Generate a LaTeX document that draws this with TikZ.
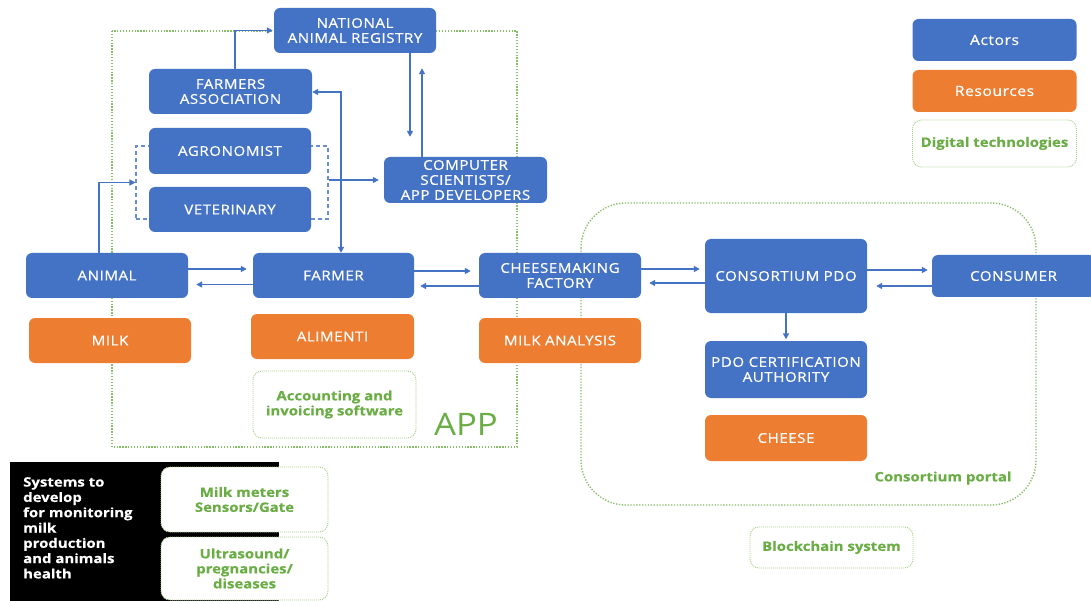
\documentclass[tikz,border=0pt]{standalone}
\usepackage{fontspec}
\setmainfont{Open Sans}
\newfontfamily\boxf{Open Sans}[FakeStretch=1.12, FakeBold=0.6, LetterSpace=4]
\newfontfamily\gbf{Open Sans}[FakeStretch=1.15, BoldFeatures={FakeBold=0.3}]
\newfontfamily\appf{Open Sans}[FakeStretch=1.12]
\usetikzlibrary{arrows.meta,calc}
\definecolor{blueC}{HTML}{4472C4}
\definecolor{orangeC}{HTML}{ED7D31}
\definecolor{greenT}{HTML}{6AAD45}
\definecolor{greenL}{HTML}{A8D08D}
\begin{document}
\begin{tikzpicture}[x=1pt,y=-1pt,
  boxfont/.style={font=\boxf\fontsize{13.5}{15}\selectfont},
  sz/.style 2 args={minimum width=#1pt, minimum height=#2pt},
  actor/.style={fill=blueC, rounded corners=6pt, text=white, align=center, inner sep=0pt, boxfont},
  resource/.style={fill=orangeC, rounded corners=6pt, text=white, align=center, inner sep=0pt, boxfont},
  digital/.style={draw=greenL, line width=0.9pt, dash pattern=on 1pt off 1pt, fill=white, rounded corners=9pt, text=greenT, align=center, inner sep=0pt, font=\gbf\fontsize{13}{15}\selectfont\bfseries},
  group/.style={draw=blueC!80, line width=1.1pt, dash pattern=on 4pt off 3pt, inner sep=0pt},
  zone/.style={draw=greenT!80!white, line width=1.4pt, dash pattern=on 1.3pt off 1.6pt},
  arr/.style={draw=blueC, line width=1.6pt, -{Triangle[length=6pt,width=6pt]}},
  arrb/.style={draw=blueC, line width=1.6pt, {Triangle[length=6pt,width=6pt]}-{Triangle[length=6pt,width=6pt]}}
]
\useasboundingbox (0,0) rectangle (1091,601);
\fill[white] (0,0) rectangle (1091,601);
% zones
\draw[zone] (112,31) rectangle (517,447);
\draw[zone, rounded corners=45pt] (581,203) rectangle (1036,505);
\node[text=greenT, font=\appf\fontsize{31}{31}\selectfont] (applbl) at (466,424) {APP};
\node[text=greenT, font=\gbf\fontsize{13}{15}\selectfont\bfseries] (cplbl) at (943,478) {Consortium portal};
% black panel
\fill[black] (10,462) rectangle (279,601);
\node[anchor=north west, text=white, align=left, inner sep=0pt, font=\gbf\fontsize{13}{15.3}\selectfont\bfseries] (sys) at (23,477) {Systems to\\develop\\for monitoring\\milk\\production\\and animals\\health};
% group dashed
\node[group, sz={192}{73}] (grp) at (232,182.5) {};
% actors
\node[actor, sz={162}{45}] (nar) at (355,30.5) {NATIONAL\\ANIMAL REGISTRY};
\node[actor, sz={163}{45}] (fa) at (230.5,91.5) {FARMERS\\ASSOCIATION};
\node[actor, sz={162}{46}] (agr) at (230,151) {AGRONOMIST};
\node[actor, sz={162}{45}] (vet) at (230,209.5) {VETERINARY};
\node[actor, sz={163}{46}] (cs) at (465.5,180) {COMPUTER\\SCIENTISTS/\\APP DEVELOPERS};
\node[actor, sz={162}{45}] (animal) at (107,275.5) {ANIMAL};
\node[actor, sz={161}{45}] (farmer) at (333.5,275.5) {FARMER};
\node[actor, sz={162}{45}] (cf) at (560,275.5) {CHEESEMAKING\\FACTORY};
\node[actor, sz={162}{74}] (cpdo) at (786,276) {CONSORTIUM PDO};
\node[actor, sz={163}{42}] (consumer) at (1013.5,276) {CONSUMER};
\node[actor, sz={162}{57}] (pdoc) at (786,369.5) {PDO CERTIFICATION\\AUTHORITY};
% resources
\node[resource, sz={162}{45}] (milk) at (110,340.5) {MILK};
\node[resource, sz={163}{45}] (alim) at (332.5,336.5) {ALIMENTI};
\node[resource, sz={162}{45}] (ma) at (560,340.5) {MILK ANALYSIS};
\node[resource, sz={162}{46}] (cheese) at (786,438) {CHEESE};
% digital
\node[digital, sz={163}{67}] (acc) at (334.5,404.5) {Accounting and\\invoicing software};
\node[digital, sz={167}{65}] (mm) at (244.5,499.5) {Milk meters\\Sensors/Gate};
\node[digital, sz={167}{63}] (us) at (244.5,568.5) {Ultrasound/\\pregnancies/\\diseases};
\node[digital, sz={163}{41}] (bc) at (831.5,547.5) {Blockchain system};
% legend
\node[actor, sz={164}{42}, font=\boxf\fontsize{14}{15}\selectfont] (lga) at (994.5,40) {Actors};
\node[resource, sz={164}{42}, font=\boxf\fontsize{14}{15}\selectfont] (lgr) at (994.5,91) {Resources};
\node[digital, sz={164}{47}] (lgd) at (994.5,143.5) {Digital technologies};
% connectors
\draw[arr] ($(animal.east)+(0,-6.5)$) -- ($(farmer.west)+(-6,-6.5)$);
\draw[arr] ($(farmer.west)+(0,9)$) -- ($(animal.east)+(8,9)$);
\draw[arr] ($(farmer.east)+(0,-4.5)$) -- ($(cf.west)+(-8,-4.5)$);
\draw[arr] ($(cf.west)+(0,10.5)$) -- ($(farmer.east)+(6,10.5)$);
\draw[arr] ($(cf.east)+(0,-6.5)$) -- ($(cpdo.west)+(-5,-7)$);
\draw[arr] ($(cpdo.west)+(0,7)$) -- ($(cf.east)+(8,7.5)$);
\draw[arr] ($(cpdo.east)+(0,-6)$) -- ($(consumer.west)+(-4,-6)$);
\draw[arr] ($(consumer.west)+(0,10)$) -- ($(cpdo.east)+(9,10)$);
\draw[arr] (cpdo.south) -- ($(pdoc.north)+(0,-1.5)$);
\draw[arr] ($(animal.north)+(-8,0)$) |- (grp.west);
\draw[arr] (grp.east |- cs.west) -- ($(cs.west)+(-5,0)$);
\draw[arr] ($(fa.north)+(4.5,0)$) |- ($(nar.west)+(-1,0)$);
\draw[arrb] ($(fa.east)+(0,0.5)$) -| ($(farmer.north)+(7.5,0)$);
\draw[arr] ($(nar.south)+(55,0)$) -- ($(cs.north)+(-55.5,-20)$);
\draw[arr] ($(cs.north)+(-43.5,0)$) -- ($(nar.south)+(67,15)$);
\end{tikzpicture}
\end{document}
